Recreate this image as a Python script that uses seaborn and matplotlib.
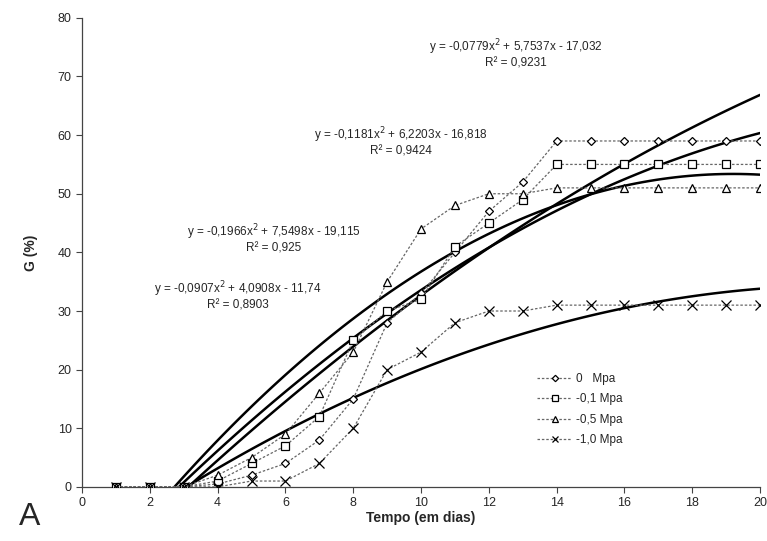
import numpy as np
import pandas as pd
import matplotlib
matplotlib.use("Agg")
import matplotlib.pyplot as plt
import seaborn as sns

# Germination (%) per day for each osmotic potential
dias = list(range(1, 21))
g_0 = [0, 0, 0, 0.5, 2, 4, 8, 15, 28, 33, 40, 47, 52, 59, 59, 59, 59, 59, 59, 59]
g_01 = [0, 0, 0, 1, 4, 7, 12, 25, 30, 32, 41, 45, 49, 55, 55, 55, 55, 55, 55, 55]
g_05 = [0, 0, 0, 2, 5, 9, 16, 23, 35, 44, 48, 50, 50, 51, 51, 51, 51, 51, 51, 51]
g_10 = [0, 0, 0, 0, 1, 1, 4, 10, 20, 23, 28, 30, 30, 31, 31, 31, 31, 31, 31, 31]

labels = ["0   Mpa", "-0,1 Mpa", "-0,5 Mpa", "-1,0 Mpa"]
markers = ["D", "s", "^", "x"]
msizes = [4.3, 6, 6, 6.5]

equations = [
    "y = -0,0779x$^2$ + 5,7537x - 17,032\nR² = 0,9231",
    "y = -0,1181x$^2$ + 6,2203x - 16,818\nR² = 0,9424",
    "y = -0,1966x$^2$ + 7,5498x - 19,115\nR² = 0,925",
    "y = -0,0907x$^2$ + 4,0908x - 11,74\nR² = 0,8903",
]
eq_pos = [(12.8, 73.9), (9.4, 58.9), (5.65, 42.3), (4.6, 32.6)]

sns.set_style("white")
plt.rcParams["font.family"] = ["Liberation Sans", "DejaVu Sans"]

df = pd.DataFrame({"dia": dias, "g0": g_0, "g01": g_01, "g05": g_05, "g10": g_10})
cols = ["g0", "g01", "g05", "g10"]

fig, ax = plt.subplots(figsize=(7.67, 5.41), dpi=100)
fig.subplots_adjust(left=0.107, right=0.991, top=0.967, bottom=0.1)

for col, lab, mk, ms in zip(cols, labels, markers, msizes):
    sns.lineplot(data=df, x="dia", y=col, ax=ax, color="#666666", lw=0.9,
                 linestyle=(0, (2, 1.5)), marker=mk, markersize=ms,
                 markerfacecolor="white", markeredgecolor="black",
                 markeredgewidth=0.9, label=lab, zorder=3)
    # polynomial trend line (order 2) fitted by seaborn
    sns.regplot(data=df, x="dia", y=col, ax=ax, order=2, ci=None, scatter=False,
                line_kws={"color": "black", "lw": 1.8, "zorder": 2})

for txt, (x, y) in zip(equations, eq_pos):
    ax.text(x, y, txt, ha="center", va="center", fontsize=8.5, linespacing=1.05)

ax.set_xlim(0, 20)
ax.set_ylim(0, 80)
ax.set_xticks(range(0, 21, 2))
ax.set_yticks(range(0, 81, 10))
ax.tick_params(axis="both", labelsize=9, direction="out", length=4, width=0.8,
               color="#444444", bottom=True, left=True)
ax.set_xlabel("Tempo (em dias)", fontsize=10, fontweight="bold", labelpad=1)
ax.set_ylabel("G (%)", fontsize=10, fontweight="bold", labelpad=14)
for side in ["top", "right"]:
    ax.spines[side].set_visible(False)
for side in ["left", "bottom"]:
    ax.spines[side].set_color("#444444")
    ax.spines[side].set_linewidth(0.9)

ax.legend(loc="upper left", bbox_to_anchor=(0.655, 0.265), frameon=False,
          fontsize=8.5, handlelength=3.0, labelspacing=0.7, handletextpad=0.3,
          markerscale=0.75)

fig.text(0.038, 0.045, "A", fontsize=23, ha="center", va="center")

plt.savefig("out.png", dpi=100)
